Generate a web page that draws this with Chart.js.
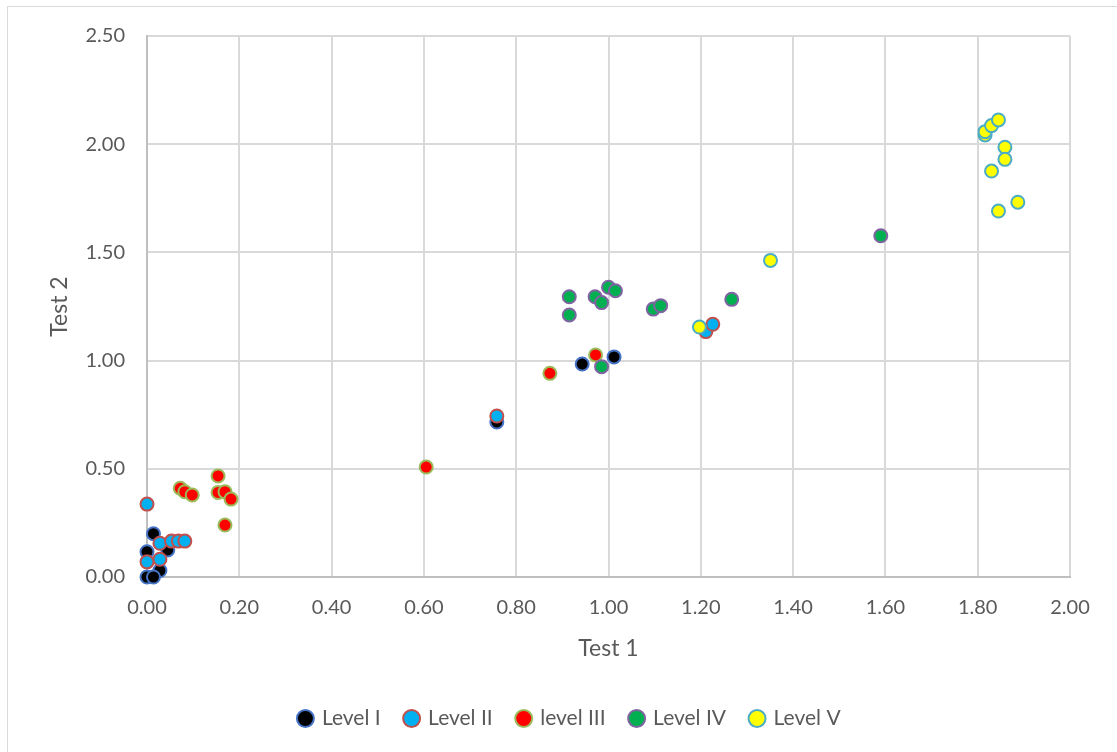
<!DOCTYPE html>
<html>
<head>
<meta charset="utf-8">
<script src="https://cdn.jsdelivr.net/npm/chart.js@4.4.0/dist/chart.umd.min.js"></script>
<style>
  body { margin: 0; background: #fff; }
  #frame { position: absolute; left: 7px; top: 6px; width: 1110px; height: 746px;
           border-left: 1px solid #d9d9d9; border-top: 1px solid #d9d9d9; }
  #wrap { position: absolute; left: 0; top: 0; width: 1117px; height: 752px; }
</style>
</head>
<body>
<div id="frame"></div>
<div id="wrap"><canvas id="chart"></canvas></div>
<script>
// values
const level1X = [0.014, 0.000, 0.045, 0.028, 0.000, 0.014, 0.758, 0.943, 1.012];
const level1Y = [0.200, 0.117, 0.125, 0.030, 0.000, 0.000, 0.716, 0.984, 1.017];

const level2X = [0.000, 0.028, 0.053, 0.068, 0.082, 0.000, 0.028, 0.758, 1.211, 1.226];
const level2Y = [0.337, 0.156, 0.166, 0.166, 0.166, 0.070, 0.082, 0.744, 1.134, 1.168];

const level3X = [0.072, 0.082, 0.098, 0.154, 0.154, 0.169, 0.182, 0.169, 0.605, 0.873, 0.972];
const level3Y = [0.410, 0.394, 0.379, 0.467, 0.391, 0.394, 0.360, 0.240, 0.508, 0.941, 1.026];

const level4X = [0.915, 0.915, 0.971, 0.985, 1.000, 1.015, 0.985, 1.097, 1.113, 1.267, 1.590];
const level4Y = [1.295, 1.211, 1.295, 1.268, 1.339, 1.323, 0.972, 1.238, 1.254, 1.283, 1.577];

const level5X = [1.197, 1.351, 1.816, 1.816, 1.830, 1.845, 1.859, 1.859, 1.830, 1.887, 1.845];
const level5Y = [1.155, 1.463, 2.043, 2.058, 2.086, 2.112, 1.986, 1.930, 1.876, 1.732, 1.691];

const seriesNames = ["Level I", "Level II", "level III", "Level IV", "Level V"];
const fillColors = ["#000000", "#00b0f0", "#ff0000", "#00b050", "#ffff00"];
const edgeColors = ["#4472c4", "#c0504d", "#9bbb59", "#8064a2", "#4bacc6"];

const xs = [level1X, level2X, level3X, level4X, level5X];
const ys = [level1Y, level2Y, level3Y, level4Y, level5Y];

const datasets = seriesNames.map((name, i) => ({
    label: name,
    data: xs[i].map((x, k) => ({ x: x, y: ys[i][k] })),
    backgroundColor: fillColors[i],
    borderColor: edgeColors[i],
    borderWidth: 2,
    pointRadius: 6.5,
    pointHoverRadius: 6.5,
    clip: false,
    order: seriesNames.length - i   // later series on top, like the original
}));

const grey = "#595959";
const fontFam = "Lato, 'Noto Sans', sans-serif";

new Chart(document.getElementById("chart"), {
    type: 'scatter',
    data: { datasets: datasets },
    options: {
        responsive: true,
        maintainAspectRatio: false,
        animation: false,
        layout: { padding: { left: 70, right: 47, top: 36, bottom: 13 } },
        plugins: {
            legend: {
                position: 'bottom',
                labels: {
                    usePointStyle: true,
                    pointStyle: 'circle',
                    boxWidth: 12,
                    boxHeight: 12,
                    padding: 25,
                    color: grey,
                    font: { family: fontFam, size: 21 },
                    sort: (a, b) => a.datasetIndex - b.datasetIndex
                }
            },
            tooltip: { enabled: false }
        },
        scales: {
            x: {
                type: 'linear',
                min: 0, max: 2,
                ticks: {
                    stepSize: 0.2,
                    color: grey,
                    padding: 19,
                    font: { family: fontFam, size: 20 },
                    callback: v => v.toFixed(2)
                },
                grid: { color: "#d9d9d9", lineWidth: 2, drawTicks: false },
                border: { color: "#bfbfbf", width: 2 },
                title: { display: true, text: "Test 1", color: grey,
                         font: { family: fontFam, size: 23 }, padding: { top: 0, bottom: 21 } },
                afterFit: s => { s.height = 106; }
            },
            y: {
                min: 0, max: 2.5,
                ticks: {
                    stepSize: 0.5,
                    color: grey,
                    padding: 22,
                    font: { family: fontFam, size: 20 },
                    callback: v => v.toFixed(2)
                },
                grid: { color: "#d9d9d9", lineWidth: 2, drawTicks: false },
                border: { color: "#bfbfbf", width: 2 },
                title: { display: true, text: "Test 2", color: grey,
                         font: { family: fontFam, size: 23 }, padding: { top: -24, bottom: 0 } },
                afterFit: s => { s.width = 77; }
            }
        }
    }
});
</script>
</body>
</html>
